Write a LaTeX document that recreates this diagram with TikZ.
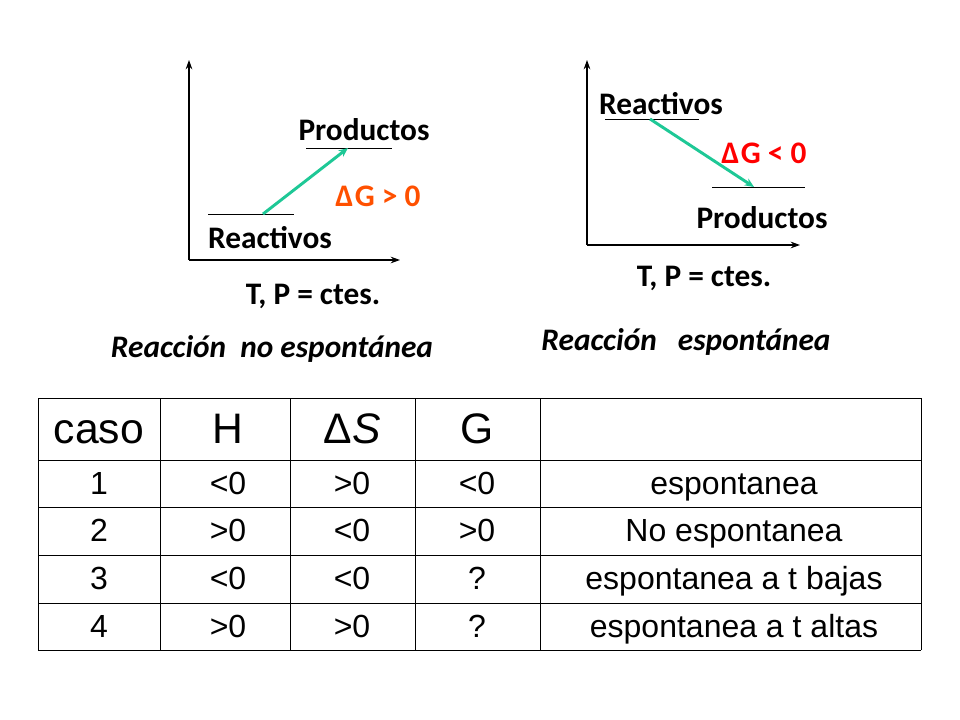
\documentclass[tikz,border=0pt]{standalone}
\usepackage{fontspec}
\setmainfont{Carlito}
\newfontfamily\arialf{Liberation Sans}
\usetikzlibrary{arrows.meta}
\definecolor{teal1}{RGB}{30,200,150}
\definecolor{orng}{RGB}{255,80,0}
\definecolor{redd}{RGB}{255,0,0}
\begin{document}
\begin{tikzpicture}[x=0.75pt,y=-0.75pt,
 ax/.style={-{Stealth[length=7pt,width=5pt]},line width=0.8pt},
 lev/.style={line width=0.6pt},
 dg/.style={teal1,line width=2.2pt,-{Stealth[length=7pt,width=6pt]}},
 lbl/.style={font=\fontsize{23.5pt}{26pt}\selectfont\bfseries},
 ilbl/.style={font=\fontsize{23.5pt}{26pt}\selectfont\bfseries\itshape},
 tc/.style={font=\arialf\fontsize{24pt}{26pt}\selectfont,anchor=base},
 th/.style={font=\arialf\fontsize{32pt}{34pt}\selectfont,anchor=base}]
\useasboundingbox (0,0) rectangle (960,720);
% left graph
\coordinate (ly0) at (189,260); \coordinate (ly1) at (189,60); \coordinate (lx1) at (400,260);
\draw[ax] (ly0) -- (ly1);
\draw[ax] (ly0) -- (lx1);
\coordinate (r1a) at (208,214); \coordinate (r1b) at (294,214);
\coordinate (p1a) at (306,148); \coordinate (p1b) at (392,148);
\draw[lev] (r1a) -- (r1b); \draw[lev] (p1a) -- (p1b);
\coordinate (s1) at (263,214); \coordinate (e1) at (348,148);
\draw[dg] (s1) -- (e1);
\node[lbl] (tp1) at (364,130) {Productos};
\node[lbl] (tr1) at (270,238) {Reactivos};
\node[lbl,text=orng] (g1) at (378,196) {Δ\kern1pt G > 0};
\node[lbl] (c1) at (313,296) {T, P = ctes.};
\node[ilbl] (n1) at (272,349) {Reacción\ \ no espontánea};
% right graph
\coordinate (ry0) at (587,245); \coordinate (ry1) at (587,60); \coordinate (rx1) at (800,245);
\draw[ax] (ry0) -- (ry1);
\draw[ax] (ry0) -- (rx1);
\coordinate (r2a) at (605,119); \coordinate (r2b) at (699,119);
\coordinate (p2a) at (712,187); \coordinate (p2b) at (805,187);
\draw[lev] (r2a) -- (r2b); \draw[lev] (p2a) -- (p2b);
\coordinate (s2) at (650,119); \coordinate (e2) at (754,187);
\draw[dg] (s2) -- (e2);
\node[lbl] (tr2) at (661,104) {Reactivos};
\node[lbl,text=redd] (g2) at (764,153) {Δ\kern1pt G < 0};
\node[lbl] (tp2) at (762,218) {Productos};
\node[lbl] (c2) at (704,278) {T, P = ctes.};
\node[ilbl] (n2) at (686,342) {Reacción\ \ \ espontánea};
% table
\foreach \y in {398,460,507,555,603,650} \draw[line width=0.6pt] (38,\y) -- (921,\y);
\foreach \x in {38,160,290,415,540,921} \draw[line width=0.6pt] (\x,398) -- (\x,650);
\node[th] (h1) at (99,443) {caso};
\node[th] (h2) at (228,443) {H};
\node[th] (h3) at (352,443) {Δ{\itshape S}};
\node[th] (h4) at (477,443) {G};
\foreach \a/\b/\c/\d/\e/\y in {1/<0/>0/<0/espontanea/494,2/>0/<0/>0/No espontanea/541,3/<0/<0/?/espontanea a t bajas/589,4/>0/>0/?/espontanea a t altas/637}{
 \node[tc] at (99,\y) {\a};
 \node[tc] at (228,\y) {\b};
 \node[tc] at (352,\y) {\c};
 \node[tc] at (477,\y) {\d};
 \node[tc] at (734,\y) {\e};
}
\end{tikzpicture}
\end{document}
